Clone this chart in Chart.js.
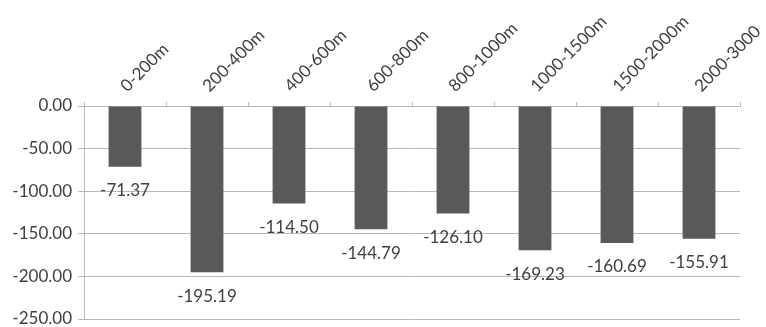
<!DOCTYPE html>
<html>
<head>
<meta charset="utf-8">
<script src="https://cdn.jsdelivr.net/npm/chart.js@4/dist/chart.umd.min.js"></script>
<style>
  html, body { margin: 0; padding: 0; background: #ffffff; }
  #wrap { width: 766px; height: 327px; position: relative; }
</style>
</head>
<body>
<div id="wrap"><canvas id="chart"></canvas></div>
<script>
// Altitude bands and their mean change values
const bands = ['0-200m', '200-400m', '400-600m', '600-800m', '800-1000m', '1000-1500m', '1500-2000m', '2000-3000'];
const values = [-71.37, -195.19, -114.50, -144.79, -126.10, -169.23, -160.69, -155.91];
const yTicks = [0, -50, -100, -150, -200, -250];

const FONT = 'Lato, "Liberation Sans", sans-serif';
const TEXT = '#404040';
const GRID = '#b8b8b8';

// Value labels placed just beyond the end of each bar
const valueLabels = {
  id: 'valueLabels',
  afterDatasetsDraw(chart) {
    const ctx = chart.ctx;
    const meta = chart.getDatasetMeta(0);
    ctx.save();
    ctx.font = '17px ' + FONT;
    ctx.fillStyle = TEXT;
    ctx.textAlign = 'center';
    ctx.textBaseline = 'middle';
    meta.data.forEach((bar, i) => {
      ctx.fillText(values[i].toFixed(2), bar.x, bar.y + 24);
    });
    ctx.restore();
  }
};

new Chart(document.getElementById('chart'), {
  type: 'bar',
  data: {
    labels: bands,
    datasets: [{
      data: values,
      backgroundColor: '#595959',
      borderWidth: 0,
      barPercentage: 0.4,
      categoryPercentage: 1.0
    }]
  },
  options: {
    responsive: true,
    maintainAspectRatio: false,
    animation: false,
    layout: { padding: { left: 0, right: 26, top: 0, bottom: 8 } },
    plugins: { legend: { display: false }, tooltip: { enabled: false } },
    scales: {
      x: {
        position: 'top',
        offset: true,
        grid: { offset: true, drawOnChartArea: false, drawTicks: true, tickLength: 4, color: GRID },
        border: { display: true, color: GRID },
        ticks: {
          color: TEXT,
          font: { family: FONT, size: 17 },
          minRotation: 45,
          maxRotation: 45,
          autoSkip: false,
          padding: 6,
          labelOffset: 13
        },
        afterFit(scale) {
          scale.height = 106;
          scale.paddingLeft = 0;
          scale.paddingRight = 0;
        }
      },
      y: {
        min: -250,
        max: 0,
        afterBuildTicks(scale) {
          scale.ticks = yTicks.map(v => ({ value: v }));
        },
        grid: { color: GRID, drawTicks: true, tickLength: 6 },
        border: { display: true, color: GRID },
        ticks: {
          color: TEXT,
          font: { family: FONT, size: 17 },
          padding: 6,
          callback: v => Number(v).toFixed(2)
        },
        afterFit(scale) {
          scale.width = 84;
          scale.paddingTop = 0;
          scale.paddingBottom = 0;
        }
      }
    }
  },
  plugins: [valueLabels]
});
</script>
</body>
</html>
